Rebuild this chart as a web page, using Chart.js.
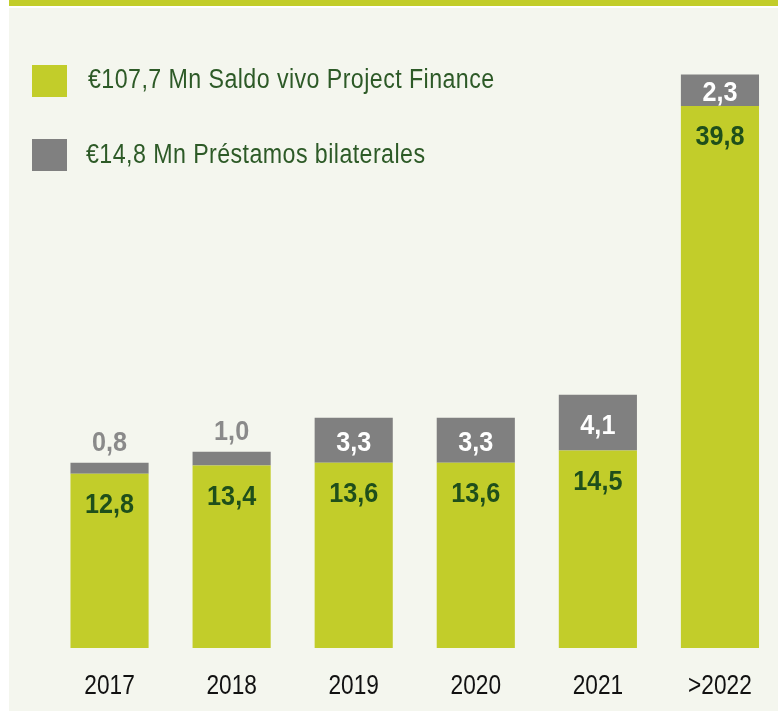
<!DOCTYPE html>
<html>
<head>
<meta charset="utf-8">
<script src="https://cdn.jsdelivr.net/npm/chart.js@4/dist/chart.umd.min.js"></script>
<style>
  html, body { margin: 0; padding: 0; width: 778px; height: 712px; overflow: hidden; background: #ffffff; }
  #strip { position: absolute; left: 9px; top: 0; width: 769px; height: 6px; background: #c2cd2a; }
  #panel { position: absolute; left: 9px; top: 8px; width: 769px; height: 703px; background: #f4f6ee; }
  #wrap { position: absolute; left: 0; top: 0; width: 800px; height: 712px; }
</style>
</head>
<body>
<div id="strip"></div>
<div id="panel"></div>
<div id="wrap"><canvas id="c"></canvas></div>
<script>
const categories = ['2017', '2018', '2019', '2020', '2021', '>2022'];
const projectFinance = [12.8, 13.4, 13.6, 13.6, 14.5, 39.8];
const bilaterales = [0.8, 1.0, 3.3, 3.3, 4.1, 2.3];
const seriesLabels = ['€107,7 Mn Saldo vivo Project Finance', '€14,8 Mn Préstamos bilaterales'];

const GREEN = '#c2cd2a';
const GRAY = '#808080';
const DARKGREEN = '#1f4f1b';
const FONT = "'Liberation Sans', Arial, sans-serif";

const fmt = v => v.toFixed(1).replace('.', ',');

// draw horizontally condensed text (emulates a narrow typeface)
function narrowText(ctx, text, x, y, sx, align, spacing) {
  ctx.save();
  ctx.translate(x, y);
  ctx.scale(sx, 1);
  ctx.textAlign = align;
  ctx.textBaseline = 'alphabetic';
  if (spacing) ctx.letterSpacing = spacing + 'px';
  ctx.fillText(text, 0, 0);
  ctx.restore();
}

const labelPlugin = {
  id: 'labels',
  afterDatasetsDraw(chart) {
    const ctx = chart.ctx;
    ctx.save();
    ctx.font = 'bold 28px ' + FONT;
    const m0 = chart.getDatasetMeta(0);
    const m1 = chart.getDatasetMeta(1);
    m0.data.forEach((el, i) => {
      ctx.fillStyle = DARKGREEN;
      narrowText(ctx, fmt(chart.data.datasets[0].data[i]), el.x, el.y + 39.5, 0.9, 'center');
    });
    m1.data.forEach((el, i) => {
      const v = chart.data.datasets[1].data[i];
      const h = el.base - el.y;
      if (h > 28) {
        ctx.fillStyle = '#ffffff';
        narrowText(ctx, fmt(v), el.x, (el.y + el.base) / 2 + 11, 0.9, 'center');
      } else {
        ctx.fillStyle = '#8a8a8a';
        narrowText(ctx, fmt(v), el.x, el.y - 12, 0.9, 'center');
      }
    });
    // category labels along the x scale
    const xs = chart.scales.x;
    ctx.font = '28px ' + FONT;
    ctx.fillStyle = '#111111';
    chart.data.labels.forEach((lab, i) => {
      narrowText(ctx, lab, xs.getPixelForValue(i), 694, 0.81, 'center');
    });
    // legend
    const legendY = [65, 139];
    const legendBase = [88, 163];
    ctx.font = '27px ' + FONT;
    chart.data.datasets.forEach((ds, i) => {
      ctx.fillStyle = ds.backgroundColor;
      ctx.fillRect(32, legendY[i], 35, 32);
      ctx.fillStyle = '#2d5a27';
      narrowText(ctx, ds.label, i === 0 ? 88 : 86, legendBase[i], 0.86, 'left', 0.5);
    });
    ctx.restore();
  }
};

new Chart(document.getElementById('c'), {
  type: 'bar',
  data: {
    labels: categories,
    datasets: [
      { label: seriesLabels[0], data: projectFinance, backgroundColor: GREEN, barPercentage: 0.64, categoryPercentage: 1.0 },
      { label: seriesLabels[1], data: bilaterales, backgroundColor: GRAY, barPercentage: 0.64, categoryPercentage: 1.0 }
    ]
  },
  options: {
    responsive: true,
    maintainAspectRatio: false,
    animation: false,
    layout: { padding: { left: 48.5, right: 19, top: 40, bottom: 64 } },
    plugins: { legend: { display: false }, tooltip: { enabled: false } },
    scales: {
      x: {
        stacked: true,
        display: false
      },
      y: {
        stacked: true,
        display: false,
        min: 0,
        max: 44.64
      }
    }
  },
  plugins: [labelPlugin]
});
</script>
</body>
</html>
